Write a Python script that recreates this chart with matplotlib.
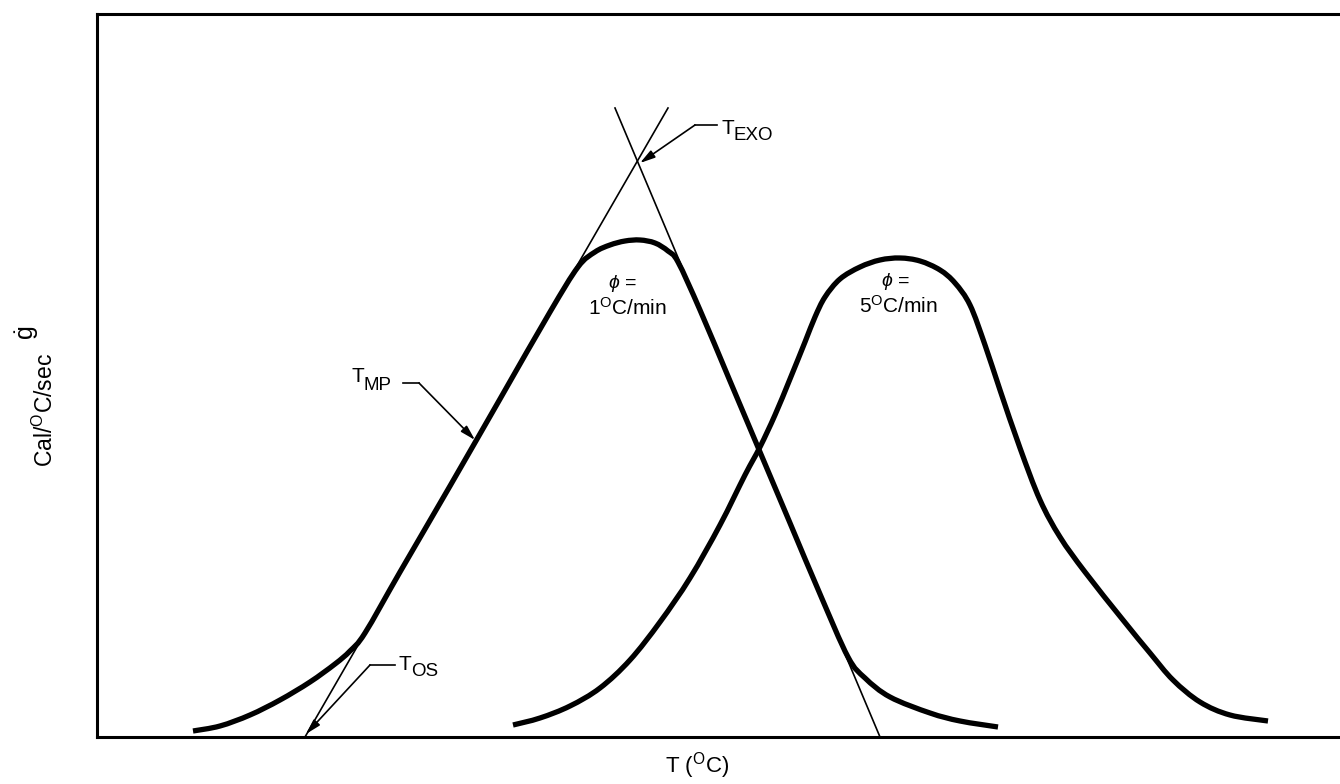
import matplotlib
matplotlib.use("Agg")
import matplotlib.pyplot as plt
from matplotlib.path import Path
from matplotlib.patches import PathPatch
import numpy as np

plt.rcParams['font.family'] = ['Liberation Sans', 'DejaVu Sans']
plt.rcParams['mathtext.fontset'] = 'custom'
plt.rcParams['mathtext.rm'] = 'Liberation Sans'
plt.rcParams['mathtext.it'] = 'Liberation Sans:italic'

# ---- data (T in arbitrary units, g-dot in arbitrary units) ----
t_1 = [193, 220, 250, 280, 310, 335, 350, 365, 400, 450, 500, 550, 578, 595, 610, 625,
       640, 655, 668, 678, 700, 730, 760, 790, 820, 848, 865, 890, 930, 960, 998]
g_1 = [6, 11, 22, 37, 55, 73, 86, 104, 165, 251, 338, 425, 470, 485, 492, 496,
       497, 494, 486, 475, 427, 356, 285, 214, 143, 80, 59, 40, 24, 16, 10]

t_5 = [513, 540, 570, 600, 630, 660, 690, 720, 745, 760, 775, 790, 805, 815, 825, 840,
       860, 880, 900, 920, 940, 955, 970, 985, 1000, 1020, 1040, 1060, 1085, 1123,
       1150, 1173, 1200, 1230, 1268]
g_5 = [12, 19, 31, 49, 77, 115, 159, 212, 262, 290, 322, 358, 395, 420, 440, 458,
       470, 477, 479, 476, 467, 454, 432, 392, 347, 289, 237, 200, 165, 117,
       84, 57, 35, 22, 16]

# tangent lines (endpoints)
tan_left_t = [305, 668]
tan_left_g = [0, 629]
tan_right_t = [615, 880]
tan_right_g = [629, 0]


def smooth_path(xs, ys):
    """Catmull-Rom through the points, drawn as cubic Bezier segments."""
    p = np.column_stack([xs, ys]).astype(float)
    verts = [p[0]]
    codes = [Path.MOVETO]
    n = len(p)
    for i in range(n - 1):
        p0 = p[i - 1] if i > 0 else p[i]
        p1 = p[i]
        p2 = p[i + 1]
        p3 = p[i + 2] if i + 2 < n else p[i + 1]
        c1 = p1 + (p2 - p0) / 6.0
        c2 = p2 - (p3 - p1) / 6.0
        verts += [c1, c2, p2]
        codes += [Path.CURVE4] * 3
    return Path(verts, codes)


fig = plt.figure(figsize=(13.4, 7.84), dpi=100)
ax = fig.add_axes([97 / 1340, 47 / 784, 1 - 97 / 1340, 723 / 784])
ax.set_xlim(97, 1340)
ax.set_ylim(0, 723)

for side in ['left', 'bottom', 'top']:
    ax.spines[side].set_linewidth(2.2)
ax.spines['right'].set_visible(False)
ax.set_xticks([])
ax.set_yticks([])

lw_thick = 3.8
for xs, ys in [(t_1, g_1), (t_5, g_5)]:
    ax.add_patch(PathPatch(smooth_path(xs, ys), facecolor='none', edgecolor='black',
                           lw=lw_thick, joinstyle='round', capstyle='butt'))
ax.plot(tan_left_t, tan_left_g, color='black', lw=1.2)
ax.plot(tan_right_t, tan_right_g, color='black', lw=1.2)

arrow = dict(arrowstyle='-|>,head_length=0.9,head_width=0.25', color='black', lw=1.2,
             shrinkA=0, shrinkB=0)


def t_label(x, y, sub, drop=7):
    ax.text(x, y, 'T', fontsize=15, ha='left', va='center')
    ax.text(x + 12, y - drop, sub, fontsize=13.5, ha='left', va='center')


# T_EXO
ax.plot([695, 717], [612, 612], color='black', lw=1.2)
ax.annotate('', xy=(640, 574), xytext=(695, 612), arrowprops=arrow)
t_label(722, 608, 'EXO', drop=7)

# T_MP
ax.plot([403, 419], [354, 354], color='black', lw=1.2)
ax.annotate('', xy=(475, 297), xytext=(419, 354), arrowprops=arrow)
t_label(352, 360, 'MP', drop=8)

# T_OS
ax.plot([370, 395], [72, 72], color='black', lw=1.2)
ax.annotate('', xy=(306, 3), xytext=(370, 72), arrowprops=arrow)
t_label(399, 73, 'OS', drop=7)

# heating-rate labels
ax.text(622, 453, r'$\phi$ =', fontsize=14, ha='center', va='center')
ax.text(627, 429, r'1$^{\mathrm{O}}$C/min', fontsize=15, ha='center', va='center')
ax.text(895, 455, r'$\phi$ =', fontsize=14, ha='center', va='center')
ax.text(898, 431, r'5$^{\mathrm{O}}$C/min', fontsize=15, ha='center', va='center')

# axis labels
fig.text(697 / 1340, 1 - 766 / 784, r'T ($^{\mathrm{O}}$C)', fontsize=16, ha='center', va='center')
fig.text(27 / 1340, 1 - 333 / 784, r'$\dot{\mathrm{g}}$', fontsize=18, ha='center', va='center', rotation=90)
fig.text(45 / 1340, 1 - 410 / 784, r'Cal/$^{\mathrm{O}}$C/sec', fontsize=16.5, ha='center', va='center', rotation=90)

fig.savefig('out.png', dpi=100)
